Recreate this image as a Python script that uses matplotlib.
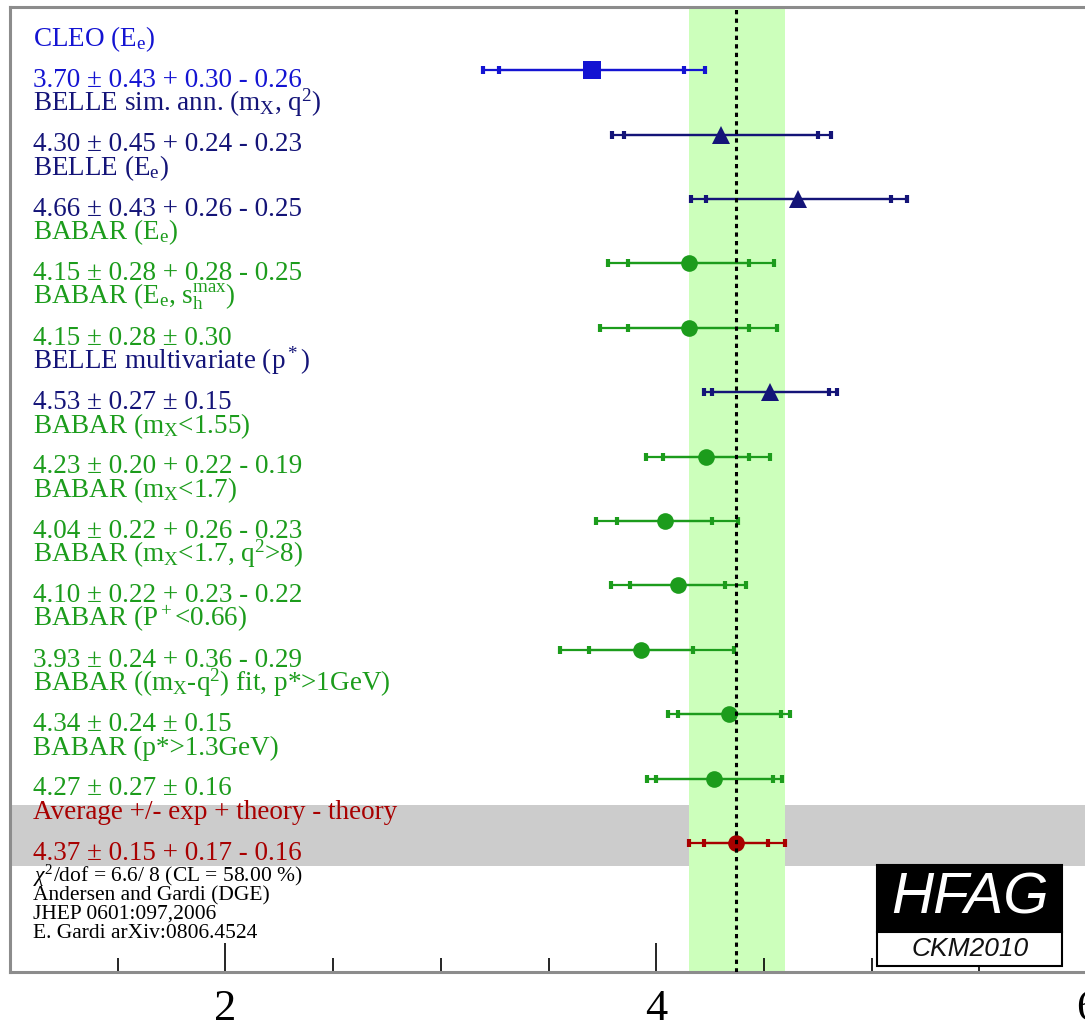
'''
Médias de |Vub| (HFAG CKM2010, DGE) -- gráfico tipo "forest plot"
'''

import numpy as np
import matplotlib.pyplot as plt
from matplotlib.ticker import FixedLocator, AutoMinorLocator

plt.rcParams['font.family'] = ['Liberation Serif', 'DejaVu Serif']
plt.rcParams['mathtext.fontset'] = 'custom'
plt.rcParams['mathtext.rm'] = 'Liberation Serif'
plt.rcParams['mathtext.it'] = 'Liberation Serif:italic'
plt.rcParams['mathtext.bf'] = 'Liberation Serif:bold'

# dados (de cima para baixo)
NAMES = [
    r'CLEO (E$_\mathrm{e}$)',
    r'BELLE sim. ann. (m$_\mathrm{X}$, q$^\mathrm{2}$)',
    r'BELLE (E$_\mathrm{e}$)',
    r'BABAR (E$_\mathrm{e}$)',
    r'BABAR (E$_\mathrm{e}$, s$_\mathrm{h}^\mathrm{max}$)',
    r'BELLE multivariate (p$^*$)',
    r'BABAR (m$_\mathrm{X}$<1.55)',
    r'BABAR (m$_\mathrm{X}$<1.7)',
    r'BABAR (m$_\mathrm{X}$<1.7, q$^\mathrm{2}$>8)',
    r'BABAR (P$^+$<0.66)',
    r'BABAR ((m$_\mathrm{X}$-q$^\mathrm{2}$) fit, p*>1GeV)',
    r'BABAR (p*>1.3GeV)',
    'Average +/- exp + theory - theory',
]
VALUES = [3.70, 4.30, 4.66, 4.15, 4.15, 4.53, 4.23, 4.04, 4.10, 3.93, 4.34, 4.27, 4.37]
STAT = [0.43, 0.45, 0.43, 0.28, 0.28, 0.27, 0.20, 0.22, 0.22, 0.24, 0.24, 0.27, 0.15]
SYST_UP = [0.30, 0.24, 0.26, 0.28, 0.30, 0.15, 0.22, 0.26, 0.23, 0.36, 0.15, 0.16, 0.17]
SYST_DN = [0.26, 0.23, 0.25, 0.25, 0.30, 0.15, 0.19, 0.23, 0.22, 0.29, 0.15, 0.16, 0.16]
EXPERIMENT = ['CLEO', 'BELLE', 'BELLE', 'BABAR', 'BABAR', 'BELLE', 'BABAR', 'BABAR',
              'BABAR', 'BABAR', 'BABAR', 'BABAR', 'AVG']

FOOTER = [
    r'$\chi^\mathrm{2}$/dof = 6.6/ 8 (CL = 58.00 %)',
    'Andersen and Gardi (DGE)',
    'JHEP 0601:097,2006',
    'E. Gardi arXiv:0806.4524',
]

STYLE = {
    'CLEO': ('#1414d2', 's', 13),
    'BELLE': ('#141478', '^', 12.5),
    'BABAR': ('#1c9c1c', 'o', 12),
    'AVG': ('#a80000', 'o', 12),
}

W, H = 1085, 1027


def fx(px):
    return px / W


def fy(py):
    return 1 - py / H


fig = plt.figure(figsize=(W / 100, H / 100), dpi=100)
ax = fig.add_axes([fx(10), fy(972), fx(1087) - fx(10), fy(7) - fy(972)])

rows = np.arange(len(VALUES))
avg = VALUES[-1]
avg_lo = np.hypot(STAT[-1], SYST_DN[-1])
avg_hi = np.hypot(STAT[-1], SYST_UP[-1])

# faixas de fundo
ax.axhspan(rows[-1] - 0.60, rows[-1] + 0.36, color='#cccccc', lw=0, zorder=0)
ax.axvspan(avg - avg_lo, avg + avg_hi, color='#ccffbb', lw=0, zorder=1)
ax.axvline(avg, color='k', lw=2.2, ls=(0, (1.4, 1.4)), zorder=6)

for i in rows:
    color, marker, ms = STYLE[EXPERIMENT[i]]
    v, s, up, dn = VALUES[i], STAT[i], SYST_UP[i], SYST_DN[i]
    tot_up = np.hypot(s, up)
    tot_dn = np.hypot(s, dn)
    # erro total e erro estatístico, ambos com traço no fim
    ax.errorbar(v, i, xerr=[[tot_dn], [tot_up]], fmt='none', ecolor=color,
                elinewidth=1.6, capsize=3, capthick=3, zorder=3)
    ax.errorbar(v, i, xerr=s, fmt='none', ecolor=color,
                elinewidth=1.6, capsize=3, capthick=3, zorder=3)
    ax.plot(v, i, marker=marker, color=color, ms=ms, mew=0, ls='None', zorder=4)

    if up == dn:
        txt = f'{v:.2f} ± {s:.2f} ± {up:.2f}'
    else:
        txt = f'{v:.2f} ± {s:.2f} + {up:.2f} - {dn:.2f}'
    ax.text(0.0215, i - 0.37, NAMES[i], color=color, fontsize=19.5,
            transform=ax.get_yaxis_transform(), va='baseline', ha='left')
    ax.text(0.0215, i + 0.26, txt, color=color, fontsize=19.5,
            transform=ax.get_yaxis_transform(), va='baseline', ha='left')

ax.set_xlim(1, 6)
ax.set_ylim(rows[-1] + 2.0, -0.98)
ax.set_yticks([])
ax.xaxis.set_major_locator(FixedLocator([2, 4, 6]))
ax.xaxis.set_minor_locator(AutoMinorLocator(4))
ax.tick_params(axis='x', which='major', direction='in', length=21, width=1.2,
               labelsize=32, pad=12)
ax.tick_params(axis='x', which='minor', direction='in', length=10, width=1.2)
for side in ['left', 'top', 'bottom', 'right']:
    ax.spines[side].set_color('#8c8c8c')
    ax.spines[side].set_linewidth(2.2)

# rodapé
for k, line in enumerate(FOOTER):
    fig.text(fx(33), fy(882 + 18.5 * k), line, fontsize=15.5, color='k',
             va='baseline', ha='left')

# logotipo HFAG
fig.patches.append(plt.Rectangle((fx(877), fy(932)), fx(1062) - fx(877), fy(865) - fy(932),
                                 transform=fig.transFigure, facecolor='black',
                                 edgecolor='black', lw=1.5, zorder=10))
fig.patches.append(plt.Rectangle((fx(877), fy(966)), fx(1062) - fx(877), fy(932) - fy(966),
                                 transform=fig.transFigure, facecolor='white',
                                 edgecolor='black', lw=1.5, zorder=10))
fig.text(fx(970), fy(899), 'HFAG', family='Liberation Sans', style='italic',
         fontsize=42, color='white', ha='center', va='center', zorder=11)
fig.text(fx(970), fy(949), 'CKM2010', family='Liberation Sans', style='italic',
         fontsize=19, color='#111111', ha='center', va='center', zorder=11)

fig.savefig('out.png', dpi=100)
